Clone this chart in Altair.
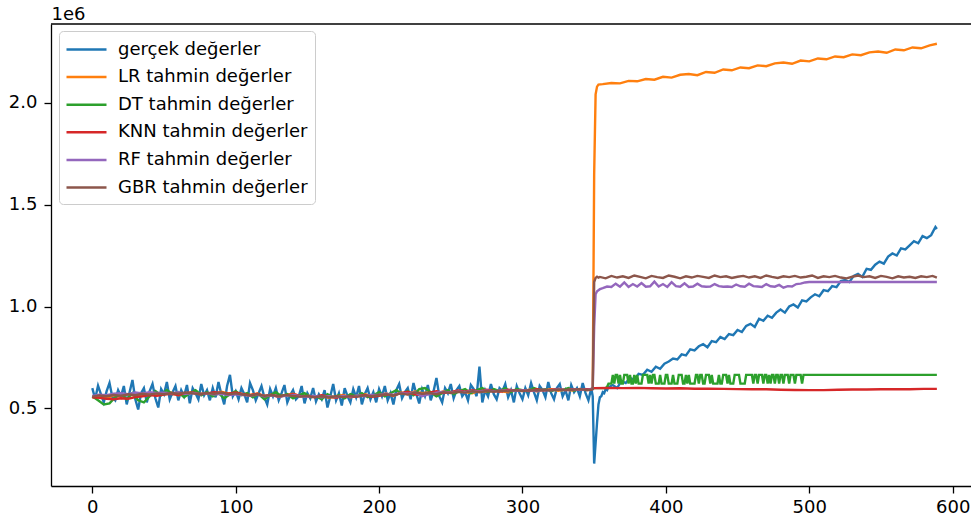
import altair as alt
import pandas as pd

labels = ["gerçek değerler", "LR tahmin değerler", "DT tahmin değerler",
          "KNN tahmin değerler", "RF tahmin değerler", "GBR tahmin değerler"]
colors = ["#1f77b4", "#ff7f0e", "#2ca02c", "#d62728", "#9467bd", "#8c564b"]
x_ticks = [0, 100, 200, 300, 400, 500, 600]
y_ticks = [500000, 1000000, 1500000, 2000000]

# ---- values in thousands ----
# gerçek: idx 0..348 step 2
blue_pre = [600, 548, 612, 570, 530, 585, 625, 555, 540, 590,
            560, 610, 520, 580, 640, 545, 495, 575, 600, 530,
            585, 620, 550, 505, 595, 570, 630, 545, 580, 610,
            540, 590, 560, 615, 525, 600, 575, 545, 620, 565,
            590, 540, 600, 555, 630, 570, 520, 610, 665, 560,
            585, 545, 600, 570, 530, 625, 590, 540, 575, 610,
            555, 520, 595, 560, 600, 540, 575, 615, 530, 565,
            590, 545, 560, 610, 525, 575, 550, 600, 535, 570,
            545, 590, 505, 560, 620, 540, 575, 515, 600, 560,
            530, 595, 555, 610, 520, 570, 600, 545, 580, 530,
            595, 560, 610, 540, 575, 520, 590, 620, 550, 580,
            600, 545, 625, 570, 525, 595, 560, 615, 540, 585,
            650, 560, 530, 600, 575, 620, 550, 590, 610, 560,
            580, 540, 615, 595, 560, 705, 530, 590, 560, 620,
            570, 545, 600, 585, 620, 555, 590, 530, 610, 575,
            545, 600, 565, 625, 580, 540, 610, 590, 555, 630,
            575, 545, 600, 620, 560, 590, 540, 615, 580, 600,
            560, 625, 575, 540, 600]
# idx 349..359
blue_jump = [560, 230, 330, 430, 520, 555, 560, 580, 575, 595, 590]
# idx 360..588 step 3
blue_post = [605, 615, 600, 635, 625, 650, 640, 670, 665, 690,
             680, 705, 695, 720, 730, 745, 740, 765, 760, 790,
             785, 805, 815, 800, 830, 825, 850, 840, 865, 860,
             885, 875, 905, 915, 900, 940, 930, 955, 945, 970,
             985, 970, 1000, 1010, 995, 1030, 1025, 1045, 1060, 1050,
             1080, 1075, 1100, 1095, 1125, 1130, 1120, 1150, 1160, 1145,
             1185, 1180, 1205, 1220, 1210, 1245, 1260, 1250, 1285, 1280,
             1300, 1320, 1310, 1345, 1335, 1350, 1390]
blue_end = 1380

# LR: idx 0..345 step 5, then 348
lr_pre = [555, 560, 550, 565, 558, 570, 562, 568, 575, 566,
          570, 578, 565, 574, 580, 571, 576, 569, 582, 574,
          577, 570, 566, 574, 562, 568, 559, 566, 572, 560,
          564, 556, 562, 552, 560, 566, 555, 563, 570, 561,
          566, 574, 562, 578, 570, 583, 575, 580, 572, 584,
          578, 586, 580, 575, 588, 582, 590, 584, 579, 590,
          586, 592, 584, 590, 595, 587, 593, 588, 596, 590, 592]
lr_jump = [600, 1650, 2040, 2078, 2088]          # idx 349..353
lr_post = [2090, 2096, 2094, 2106, 2104, 2115, 2112, 2126, 2122, 2136,
           2140, 2134, 2150, 2146, 2162, 2158, 2172, 2168, 2182, 2178,
           2192, 2196, 2190, 2206, 2202, 2216, 2212, 2226, 2222, 2236,
           2232, 2246, 2250, 2244, 2260, 2256, 2270, 2266, 2280]  # idx 356..584 step 6
lr_end = 2288

# DT: idx 0..348 step 4
dt_pre = [560, 540, 520, 525, 555, 570, 545, 575, 540, 530,
          560, 585, 565, 590, 570, 580, 555, 575, 590, 565,
          580, 560, 575, 550, 570, 585, 565, 575, 555, 570,
          545, 565, 580, 560, 570, 550, 565, 575, 555, 560,
          545, 570, 555, 565, 550, 570, 560, 575, 555, 565,
          580, 560, 575, 590, 570, 585, 565, 595, 600, 580,
          560, 575, 590, 570, 585, 595, 575, 590, 600, 580,
          595, 585, 600, 580, 595, 590, 585, 600, 590, 595,
          585, 595, 590, 600, 588, 595, 590, 595]
# idx 349..500, every index
dt_post = [598, 600, 600, 600, 600, 600, 600,
           600, 600, 600, 605, 622,
           622, 622, 665, 622, 665, 665, 622, 665, 622, 622, 665,
           665, 665, 622, 665, 622, 622, 665, 622, 665, 622, 622,
           622, 665, 665, 665, 665, 622, 665, 622, 665, 665, 622,
           622, 622, 665, 622, 622, 622, 665, 665, 622, 622, 622,
           665, 622, 622, 622, 665, 665, 665, 622, 622, 665, 622,
           665, 622, 622, 622, 622,
           665, 665, 622, 665, 665, 622, 622, 665, 665, 665, 622,
           665, 622, 622, 622, 622, 665, 622, 622, 665, 665, 665,
           622, 665, 622, 622, 622, 665, 665, 665, 665, 622, 622,
           622, 622,
           665, 665, 665, 665, 665, 622, 665, 665, 622, 665, 665,
           665, 622, 665, 665, 622, 665, 622, 665, 665, 622, 665,
           665, 622, 665, 665, 622, 665, 665, 665, 622, 665, 665,
           665, 622, 665, 665, 665, 665, 622, 665, 665, 665, 665,
           665]
dt_end = 665

# KNN: idx 0..345 step 5, then 348
knn_pre = [555, 552, 548, 545, 550, 548, 556, 560, 566, 562,
           568, 572, 566, 575, 578, 570, 574, 580, 576, 572,
           578, 570, 565, 572, 560, 566, 558, 564, 570, 562,
           560, 555, 565, 558, 552, 562, 556, 560, 566, 558,
           562, 570, 565, 575, 582, 570, 565, 578, 585, 576,
           580, 588, 582, 590, 584, 592, 586, 583, 592, 588,
           590, 586, 594, 589, 592, 596, 590, 594, 592, 595, 596]
# idx 350..580 step 10
knn_post = [600, 601, 600, 601, 599, 598, 599, 597, 597, 596,
            595, 594, 594, 592, 591, 590, 590, 592, 593, 593,
            594, 595, 594, 596]
knn_end = 596

# RF: idx 0..345 step 5, then 348
rf_pre = [562, 568, 565, 572, 575, 570, 578, 574, 580, 576,
          578, 574, 580, 572, 576, 570, 575, 568, 572, 566,
          570, 566, 562, 568, 560, 565, 558, 562, 566, 560,
          558, 562, 555, 560, 556, 562, 558, 564, 560, 566,
          568, 572, 566, 575, 572, 580, 560, 570, 578, 582,
          578, 584, 580, 586, 582, 588, 584, 590, 586, 589,
          588, 590, 586, 592, 589, 594, 590, 592, 594, 591, 593]
rf_jump = [595, 900, 1060, 1075, 1080, 1085, 1088]   # idx 349..355
rf_post = [1090, 1098, 1096, 1112, 1097, 1118, 1096, 1110, 1098, 1115,
           1097, 1099, 1122, 1098, 1110, 1096, 1119, 1100, 1097, 1114,
           1096, 1098, 1112, 1099, 1097, 1098, 1110, 1100, 1097, 1098,
           1096, 1108, 1099, 1097, 1112, 1100, 1098, 1096, 1110, 1099,
           1097, 1106, 1092, 1100, 1098, 1110, 1112, 1118, 1120]  # idx 356..500 step 3
rf_end = 1120

# GBR: idx 0..345 step 5, then 348
gbr_pre = [558, 564, 560, 566, 562, 570, 565, 572, 568, 574,
           570, 576, 572, 578, 574, 570, 576, 572, 578, 570,
           574, 568, 564, 570, 562, 566, 560, 566, 562, 558,
           562, 556, 560, 554, 560, 556, 562, 558, 564, 560,
           566, 570, 564, 574, 568, 578, 572, 576, 570, 580,
           576, 582, 578, 585, 580, 586, 582, 588, 584, 590,
           586, 590, 588, 592, 589, 593, 590, 592, 595, 591, 592]
gbr_jump = [595, 1120, 1140, 1146, 1142]   # idx 349..353
gbr_post = [1145, 1138, 1150, 1142, 1148, 1140, 1152, 1145, 1138, 1150,
            1144, 1140, 1152, 1146, 1138, 1148, 1142, 1150, 1145, 1140,
            1152, 1144, 1148, 1140, 1146, 1150, 1142, 1148, 1140, 1152,
            1145, 1140, 1148, 1144, 1150, 1142, 1146, 1152, 1140, 1148,
            1144, 1150, 1142, 1138, 1146, 1152, 1144, 1148, 1140, 1150,
            1145, 1138, 1148, 1142, 1146, 1140, 1148, 1144, 1150]  # idx 354..586 step 4
gbr_end = 1142


def seg(start, step, vals):
    return [(start + i * step, v) for i, v in enumerate(vals)]


def pre5(vals):
    # first values at step 5, last one at index 348
    return seg(0, 5, vals[:-1]) + [(348, vals[-1])]


series_pts = {
    labels[0]: seg(0, 2, blue_pre) + seg(349, 1, blue_jump) + seg(360, 3, blue_post) + [(589, blue_end)],
    labels[1]: pre5(lr_pre) + seg(349, 1, lr_jump) + seg(356, 6, lr_post) + [(589, lr_end)],
    labels[2]: seg(0, 4, dt_pre) + seg(349, 1, dt_post) + [(589, dt_end)],
    labels[3]: pre5(knn_pre) + seg(350, 10, knn_post) + [(589, knn_end)],
    labels[4]: pre5(rf_pre) + seg(349, 1, rf_jump) + seg(356, 3, rf_post) + [(589, rf_end)],
    labels[5]: pre5(gbr_pre) + seg(349, 1, gbr_jump) + seg(354, 4, gbr_post) + [(589, gbr_end)],
}

rows = []
for name, pts in series_pts.items():
    for i, v in pts:
        rows.append({"idx": i, "value": v * 1000, "series": name})
df = pd.DataFrame(rows)

W, H = 920, 462
FONT = "DejaVu Sans"

color_enc = alt.Color(
    "series:N",
    scale=alt.Scale(domain=labels, range=colors),
    legend=alt.Legend(
        title=None, orient="none", legendX=8, legendY=7,
        fillColor="rgba(255,255,255,0.8)", strokeColor="#cccccc",
        cornerRadius=4, padding=7,
        symbolType="M-2,0L2,0", symbolSize=400, symbolStrokeWidth=2.5,
        symbolOffset=9, labelOffset=20,
        labelFont=FONT, labelFontSize=18, labelColor="black",
        rowPadding=6.6, labelLimit=400,
    ),
)

x_enc = alt.X(
    "idx:Q",
    scale=alt.Scale(domain=[-28.8, 612.8], nice=False, zero=False),
    axis=alt.Axis(values=x_ticks, title=None, labelPadding=5),
)
y_enc = alt.Y(
    "value:Q",
    scale=alt.Scale(domain=[120000, 2385000], nice=False, zero=False),
    axis=alt.Axis(values=y_ticks, labelExpr="format(datum.value / 1000000, '.1f')",
                  title="1e6", titleAngle=0, titleAlign="left", titleBaseline="alphabetic",
                  titleX=0, titleY=-5, titleFont=FONT, titleFontSize=18,
                  titleFontWeight="normal", titleColor="black", labelPadding=7),
)

base = alt.Chart(df)
layers = []
for name in labels:
    layers.append(
        base.transform_filter(alt.datum.series == name)
        .mark_line(strokeWidth=2.4)
        .encode(x=x_enc, y=y_enc, color=color_enc)
    )

top_spine = alt.Chart(pd.DataFrame({"a": [0]})).mark_rule(color="black", strokeWidth=1.3).encode(
    x=alt.value(0), x2=alt.value(W), y=alt.value(0)
)

chart = alt.layer(*layers, top_spine).properties(
    width=W, height=H,
    padding={"left": 51, "top": 24, "right": 0, "bottom": 34},
    autosize=alt.AutoSizeParams(type="none"),
).configure_view(stroke=None).configure_axis(
    grid=False, domainColor="black", domainWidth=1.3, tickColor="black",
    tickWidth=1.3, tickSize=7, labelFont=FONT, labelFontSize=18, labelColor="black",
)

chart.save("out.html", embed_options={"renderer": "svg", "actions": False})
